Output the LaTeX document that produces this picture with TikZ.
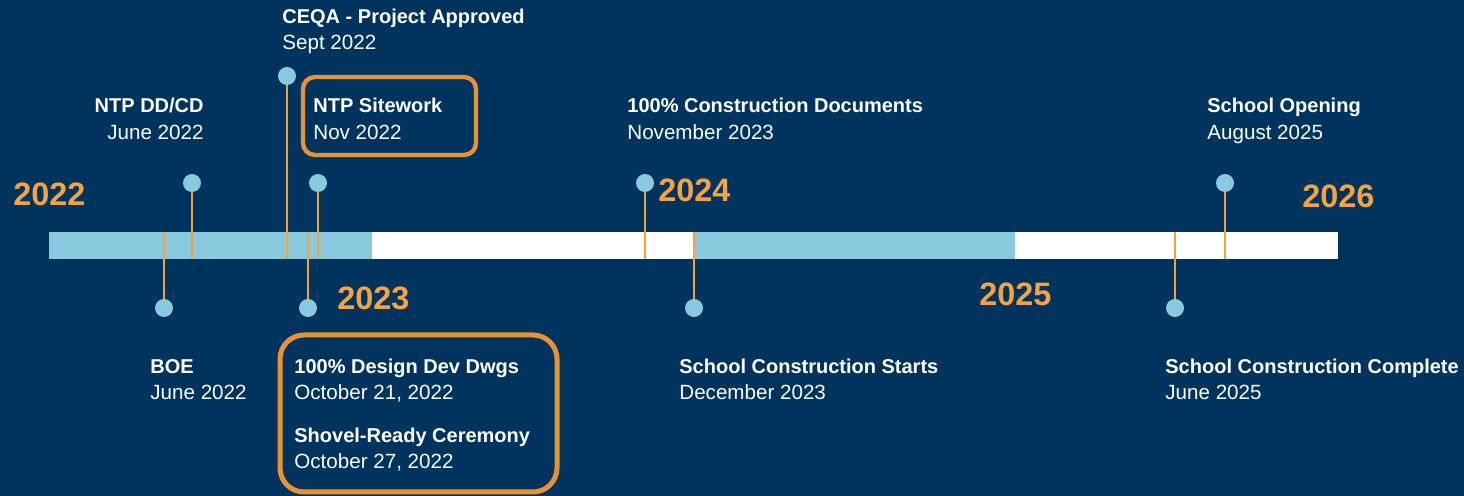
\documentclass[tikz,border=0pt]{standalone}
\usepackage{fontspec}
\setmainfont{Liberation Sans}
\definecolor{navy}{RGB}{0,52,94}
\definecolor{ltblue}{RGB}{137,201,221}
\definecolor{lineor}{RGB}{245,161,59}
\definecolor{boxor}{RGB}{232,146,54}
\definecolor{yearor}{RGB}{247,162,59}
\tikzset{
  title/.style={anchor=base west, inner sep=0pt, text=white, font=\fontsize{10}{12}\selectfont\bfseries},
  date/.style={anchor=base west, inner sep=0pt, text=white, font=\fontsize{10.3}{12}\selectfont},
  year/.style={anchor=west, inner sep=0pt, text=yearor, font=\fontsize{16.2}{18}\selectfont\bfseries},
  marker/.style={circle, fill=ltblue, inner sep=0pt, minimum size=9pt},
  stem/.style={draw=lineor, line width=1pt},
  hl/.style={draw=boxor, line width=2.2pt, rounded corners=6pt},
}
\begin{document}
\begin{tikzpicture}[x=0.5pt,y=-0.5pt]
\fill[navy] (0,0) rectangle (1464,496);
\useasboundingbox (0,0) rectangle (1464,496);
% bar
\fill[white] (49,232) rectangle (1338,259);
\fill[ltblue] (49,232) rectangle (372,259);
\fill[ltblue] (693,232) rectangle (1015,259);
% bar coordinates
\coordinate (bDD) at (192,259);
\coordinate (bCEQA) at (287,259);
\coordinate (bSite) at (318,259);
\coordinate (bCD) at (645,259);
\coordinate (bOpen) at (1225,259);
\coordinate (bBOE) at (164,232);
\coordinate (bDDW) at (308,232);
\coordinate (bStart) at (694,232);
\coordinate (bDone) at (1175,232);
% markers
\node[marker] (mDD) at (192,183) {};
\node[marker] (mCEQA) at (287,76) {};
\node[marker] (mSite) at (318,183) {};
\node[marker] (mCD) at (645,183) {};
\node[marker] (mOpen) at (1225,183) {};
\node[marker] (mBOE) at (164,308) {};
\node[marker] (mDDW) at (308,308) {};
\node[marker] (mStart) at (694,308) {};
\node[marker] (mDone) at (1175,308) {};
% stems
\draw[stem] (mDD) -- (bDD);
\draw[stem] (mCEQA) -- (bCEQA);
\draw[stem] (mSite) -- (bSite);
\draw[stem] (mCD) -- (bCD);
\draw[stem] (mOpen) -- (bOpen);
\draw[stem] (mBOE) -- (bBOE);
\draw[stem] (mDDW) -- (bDDW);
\draw[stem] (mStart) -- (bStart);
\draw[stem] (mDone) -- (bDone);
% years
\node[year] (y22) at (13,194) {2022};
\node[year] (y23) at (337,298) {2023};
\node[year] (y24) at (658,190) {2024};
\node[year] (y25) at (979,294) {2025};
\node[year] (y26) at (1302,196) {2026};
% highlight boxes
\draw[hl] (303,77) rectangle (476,155);
\draw[hl, line width=2.5pt, rounded corners=12pt] (280,335) rectangle (557,492);
% labels top
\node[title] (tCEQA) at (282,24) {CEQA - Project Approved};
\node[date] (dCEQA) at (282,50) {Sept 2022};
\node[title, anchor=base east] (tDD) at (204,113) {NTP DD/CD};
\node[date, anchor=base east] (dDD) at (204,140) {June 2022};
\node[title] (tSite) at (313,113) {NTP Sitework};
\node[date] (dSite) at (313,140) {Nov 2022};
\node[title] (tCD) at (627,113) {100\% Construction Documents};
\node[date] (dCD) at (627,140) {November 2023};
\node[title] (tOpen) at (1207,113) {School Opening};
\node[date] (dOpen) at (1207,140) {August 2025};
% labels bottom
\node[title] (tBOE) at (150,374) {BOE};
\node[date] (dBOE) at (150,400) {June 2022};
\node[title] (tDDW) at (294,374) {100\% Design Dev Dwgs};
\node[date] (dDDW) at (294,400) {October 21, 2022};
\node[title] (tShovel) at (294,443) {Shovel-Ready Ceremony};
\node[date] (dShovel) at (294,469) {October 27, 2022};
\node[title] (tStart) at (679,374) {School Construction Starts};
\node[date] (dStart) at (679,400) {December 2023};
\node[title] (tDone) at (1165,374) {School Construction Complete};
\node[date] (dDone) at (1165,400) {June 2025};
\end{tikzpicture}
\end{document}
